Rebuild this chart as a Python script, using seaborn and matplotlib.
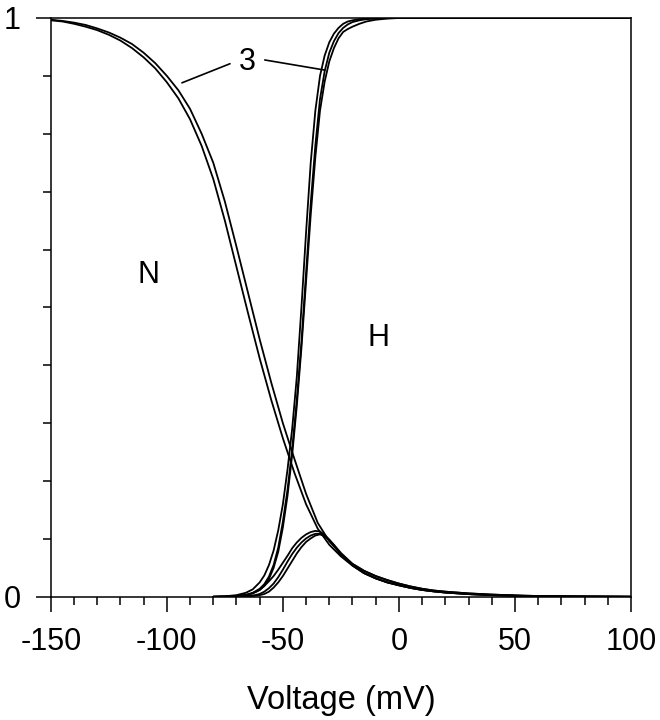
import matplotlib
matplotlib.use("Agg")
import matplotlib.pyplot as plt
from matplotlib.ticker import MultipleLocator, FixedLocator
import seaborn as sns

# voltage grids (mV)
v_n = [-150, -145, -140, -135, -130, -125, -120, -115, -110, -105, -100, -95,
       -90, -85, -80, -75, -70, -65, -60, -55, -50, -45, -40, -35, -30, -25,
       -20, -15, -10, -5, 0, 5, 10, 15, 20, 30, 40, 50, 60, 75, 100]
v_h = [-80, -75, -70, -66, -63, -60, -58, -56, -54, -52, -50, -48, -46, -44,
       -42, -40, -38, -36, -34, -32, -30, -28, -26, -24, -22, -20, -17, -14,
       -10, -5, 0, 10, 20, 50, 100]
v_b = [-80, -70, -65, -62, -60, -58, -56, -54, -52, -50, -48, -46, -44, -42,
       -40, -38, -36, -34, -32, -30, -28, -25, -20, -15, -10, -5, 0, 5, 10,
       15, 20, 30, 40, 50, 60, 75, 100]

# N curves (decreasing)
n_outer = [0.997, 0.995, 0.992, 0.988, 0.982, 0.975, 0.966, 0.955, 0.940,
           0.922, 0.900, 0.875, 0.843, 0.800, 0.750, 0.683, 0.605, 0.525,
           0.445, 0.370, 0.300, 0.238, 0.178, 0.128, 0.096, 0.074, 0.057,
           0.045, 0.036, 0.029, 0.023, 0.018, 0.014, 0.011, 0.009, 0.006,
           0.004, 0.0025, 0.0015, 0.0008, 0.0003]
n_inner = [0.996, 0.994, 0.990, 0.985, 0.979, 0.971, 0.961, 0.948, 0.932,
           0.913, 0.889, 0.861, 0.825, 0.779, 0.722, 0.650, 0.570, 0.490,
           0.412, 0.340, 0.274, 0.214, 0.160, 0.118, 0.090, 0.070, 0.054,
           0.041, 0.032, 0.025, 0.020, 0.0155, 0.012, 0.0095, 0.0075, 0.0048,
           0.003, 0.0019, 0.0012, 0.0006, 0.0002]

# H curves (increasing)
h1 = [0.0005, 0.001, 0.003, 0.007, 0.013, 0.025, 0.037, 0.055, 0.080, 0.115,
      0.160, 0.220, 0.290, 0.380, 0.500, 0.630, 0.750, 0.840, 0.900, 0.935,
      0.958, 0.973, 0.983, 0.990, 0.994, 0.996, 0.998, 0.999, 0.9995, 1.0,
      1.0, 1.0, 1.0, 1.0, 1.0]
h2 = [0.0003, 0.0006, 0.0015, 0.0035, 0.007, 0.014, 0.022, 0.035, 0.055,
      0.085, 0.130, 0.185, 0.255, 0.340, 0.440, 0.560, 0.680, 0.780, 0.860,
      0.908, 0.940, 0.960, 0.974, 0.983, 0.989, 0.993, 0.996, 0.998, 0.999,
      0.9997, 1.0, 1.0, 1.0, 1.0, 1.0]
h3 = [0.0002, 0.0005, 0.0012, 0.003, 0.006, 0.012, 0.019, 0.031, 0.050,
      0.078, 0.120, 0.175, 0.245, 0.330, 0.430, 0.545, 0.660, 0.760, 0.840,
      0.890, 0.925, 0.948, 0.965, 0.976, 0.981, 0.985, 0.990, 0.994, 0.997,
      0.999, 1.0, 1.0, 1.0, 1.0, 1.0]

# bump curves
b1 = [0.0, 0.001, 0.004, 0.008, 0.012, 0.019, 0.027, 0.036, 0.047, 0.059,
      0.071, 0.084, 0.094, 0.102, 0.108, 0.112, 0.114, 0.113, 0.107, 0.099,
      0.090, 0.076, 0.057, 0.045, 0.036, 0.029, 0.023, 0.018, 0.014, 0.011,
      0.009, 0.006, 0.004, 0.0025, 0.0015, 0.0008, 0.0003]
b2 = [0.0, 0.0005, 0.0015, 0.003, 0.005, 0.009, 0.015, 0.023, 0.034, 0.047,
      0.061, 0.074, 0.085, 0.094, 0.101, 0.106, 0.109, 0.109, 0.105, 0.098,
      0.089, 0.074, 0.055, 0.041, 0.032, 0.025, 0.020, 0.0155, 0.012, 0.0095,
      0.0075, 0.0048, 0.003, 0.0019, 0.0012, 0.0006, 0.0002]
b3 = [0.0, 0.0003, 0.001, 0.002, 0.003, 0.005, 0.009, 0.016, 0.025, 0.036,
      0.049, 0.062, 0.075, 0.086, 0.095, 0.101, 0.106, 0.108, 0.105, 0.098,
      0.089, 0.073, 0.054, 0.041, 0.032, 0.025, 0.020, 0.0155, 0.012, 0.0095,
      0.0075, 0.0048, 0.003, 0.0019, 0.0012, 0.0006, 0.0002]

sns.set_style("ticks")
plt.rcParams["font.family"] = ["Liberation Sans", "DejaVu Sans"]
plt.rcParams["axes.unicode_minus"] = False
plt.rcParams["text.color"] = "black"
plt.rcParams["axes.labelcolor"] = "black"
plt.rcParams["xtick.color"] = "black"
plt.rcParams["ytick.color"] = "black"

fig = plt.figure(figsize=(6.6, 7.2), dpi=100)
ax = fig.add_axes([0.077, 0.171, 0.879, 0.804])

lw = 1.3
for y in [n_outer, n_inner]:
    sns.lineplot(x=v_n, y=y, color="black", lw=lw, ax=ax)
for y in [h1, h2, h3]:
    sns.lineplot(x=v_h, y=y, color="black", lw=lw, ax=ax)
for y in [b1, b2, b3]:
    sns.lineplot(x=v_b, y=y, color="black", lw=lw, ax=ax)

ax.set_xlim(-150, 100)
ax.set_ylim(0, 1)
ax.xaxis.set_major_locator(MultipleLocator(50))
ax.xaxis.set_minor_locator(MultipleLocator(10))
ax.yaxis.set_major_locator(FixedLocator([0, 1]))
ax.yaxis.set_minor_locator(MultipleLocator(0.1))
ax.tick_params(which="both", bottom=True, left=True, top=False, right=False)
ax.tick_params(which="major", direction="out", length=10.5, width=1.1,
               color="black", labelcolor="black", labelsize=22, pad=11)
ax.tick_params(which="minor", direction="out", length=5.5, width=1.1,
               color="black")
ax.set_yticklabels(["0", "1"])
for s in ax.spines.values():
    s.set_visible(True)
    s.set_color("black")
    s.set_linewidth(1.1)

ax.set_xlabel("Voltage (mV)", fontsize=23.5, labelpad=20, color="black")
ax.set_ylabel("")

# labels
ax.text(-108, 0.556, "N", fontsize=22, ha="center", va="center", color="black")
ax.text(-9, 0.447, "H", fontsize=22, ha="center", va="center", color="black")
ax.text(-65.5, 0.924, "3", fontsize=22, ha="center", va="center", color="black")
ax.annotate("", xy=(-93.5, 0.888), xytext=(-72.8, 0.921),
            arrowprops=dict(arrowstyle="-", lw=1.2, color="black",
                            shrinkA=0, shrinkB=0))
ax.annotate("", xy=(-31.9, 0.910), xytext=(-57.8, 0.9275),
            arrowprops=dict(arrowstyle="-", lw=1.2, color="black",
                            shrinkA=0, shrinkB=0))

fig.savefig("out.png", dpi=100)
